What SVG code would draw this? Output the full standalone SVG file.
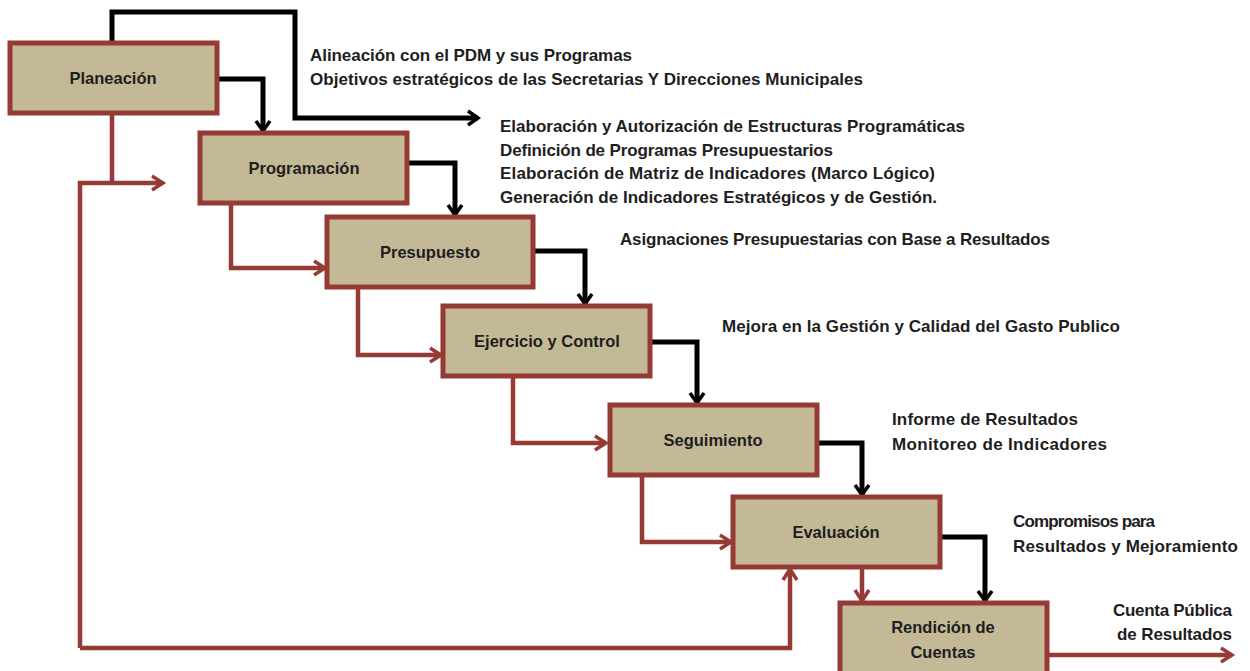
<svg xmlns="http://www.w3.org/2000/svg" width="1250" height="671" viewBox="0 0 1250 671">
<style>
.box{fill:#c4b997;stroke:#963a36;stroke-width:5}
.lbl{font-family:"Liberation Sans",Arial,sans-serif;font-weight:bold;font-size:16.5px;fill:#1e1e1e;text-anchor:middle}
.txt{font-family:"Liberation Sans",Arial,sans-serif;font-weight:bold;font-size:17px;fill:#1e1e1e}
.blk{fill:none;stroke:#000;stroke-width:5;stroke-linejoin:miter}
.red{fill:none;stroke:#963a36;stroke-width:4.5;stroke-linejoin:miter}
</style>
<defs>
<marker id="ab" markerUnits="userSpaceOnUse" markerWidth="20" markerHeight="20" viewBox="0 0 20 20" refX="16" refY="10" orient="auto">
<path d="M6,3 L16,10 L6,17" fill="none" stroke="#000" stroke-width="3.5"/>
</marker>
<marker id="ar" markerUnits="userSpaceOnUse" markerWidth="20" markerHeight="20" viewBox="0 0 20 20" refX="16" refY="10" orient="auto">
<path d="M5,3 L16,10 L5,17" fill="none" stroke="#963a36" stroke-width="3.5"/>
</marker>
</defs>
<rect width="1250" height="671" fill="#fff"/>
<g id="connectors">
<path class="blk" d="M112,43 V12 H295 V118 H478" marker-end="url(#ab)"/>
<path class="blk" d="M217,79 H263 V131" marker-end="url(#ab)"/>
<path class="blk" d="M407,163 H455 V215" marker-end="url(#ab)"/>
<path class="blk" d="M533,251 H585 V304" marker-end="url(#ab)"/>
<path class="blk" d="M650,342 H697 V403" marker-end="url(#ab)"/>
<path class="blk" d="M817,443 H862 V495" marker-end="url(#ab)"/>
<path class="blk" d="M940,537 H985 V601" marker-end="url(#ab)"/>
<path class="red" d="M112,113 V183"/>
<path class="red" d="M80,648 V183 H163" marker-end="url(#ar)"/>
<path class="red" d="M231,203 V268 H325" marker-end="url(#ar)"/>
<path class="red" d="M358,287 V355 H441" marker-end="url(#ar)"/>
<path class="red" d="M513,376 V443 H606" marker-end="url(#ar)"/>
<path class="red" d="M642,475 V542 H731" marker-end="url(#ar)"/>
<path class="red" d="M862,567 V601" marker-end="url(#ar)"/>
<path class="red" d="M80,648 H790 V569" marker-end="url(#ar)"/>
<path class="red" d="M1047,655 H1232" marker-end="url(#ar)"/>
</g>
<g id="planeacion"><rect class="box" x="10" y="43" width="207" height="70"/><text class="lbl" x="113" y="84">Planeación</text></g>
<g id="programacion"><rect class="box" x="200" y="133" width="207" height="70"/><text class="lbl" x="304" y="174">Programación</text></g>
<g id="presupuesto"><rect class="box" x="327" y="217" width="206" height="70"/><text class="lbl" x="430" y="258">Presupuesto</text></g>
<g id="ejercicio"><rect class="box" x="443" y="306" width="207" height="70"/><text class="lbl" x="547" y="347">Ejercicio y Control</text></g>
<g id="seguimiento"><rect class="box" x="610" y="405" width="207" height="70"/><text class="lbl" x="713" y="446">Seguimiento</text></g>
<g id="evaluacion"><rect class="box" x="733" y="497" width="207" height="70"/><text class="lbl" x="836" y="538">Evaluación</text></g>
<g id="rendicion"><rect class="box" x="840" y="603" width="207" height="75"/><text class="lbl" x="943" y="633">Rendición de</text><text class="lbl" x="943" y="658">Cuentas</text></g>
<g id="notes">
<text class="txt" x="310" y="61" textLength="322">Alineación con el PDM y sus Programas</text>
<text class="txt" x="310" y="85" textLength="553">Objetivos estratégicos de las Secretarias Y Direcciones  Municipales</text>
<text class="txt" x="500" y="132" textLength="465">Elaboración y Autorización de Estructuras Programáticas</text>
<text class="txt" x="500" y="156" textLength="333">Definición de Programas Presupuestarios</text>
<text class="txt" x="500" y="179" textLength="435">Elaboración de Matriz de Indicadores (Marco Lógico)</text>
<text class="txt" x="500" y="203" textLength="437">Generación de Indicadores Estratégicos y de Gestión.</text>
<text class="txt" x="620" y="245" textLength="430">Asignaciones Presupuestarias con Base a Resultados</text>
<text class="txt" x="722" y="332" textLength="398">Mejora en la Gestión y Calidad del Gasto Publico</text>
<text class="txt" x="892" y="425" textLength="186">Informe de Resultados</text>
<text class="txt" x="892" y="450" textLength="215">Monitoreo de Indicadores</text>
<text class="txt" x="1013" y="527" textLength="142">Compromisos para</text>
<text class="txt" x="1013" y="552" textLength="225">Resultados y Mejoramiento</text>
<text class="txt" x="1113" y="616" textLength="119">Cuenta Pública</text>
<text class="txt" x="1117" y="640" textLength="115">de Resultados</text>
</g>
</svg>
